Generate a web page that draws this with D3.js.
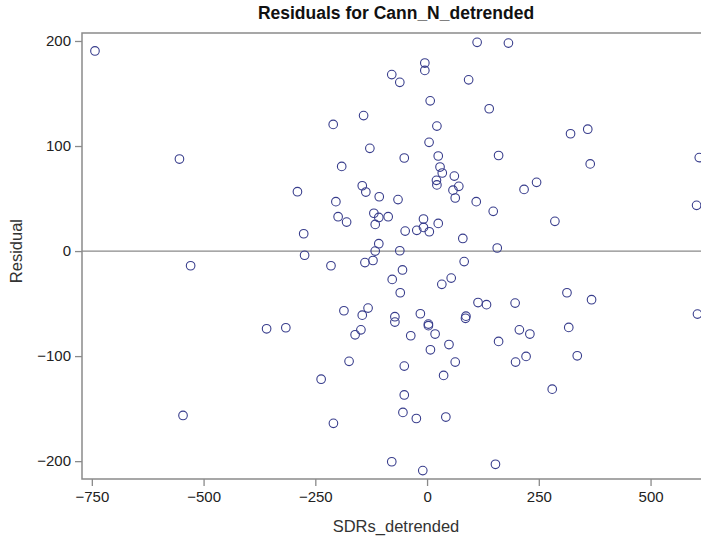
<!DOCTYPE html>
<html>
<head>
<meta charset="utf-8">
<script src="https://cdn.jsdelivr.net/npm/d3@7"></script>
<style>
  body { margin: 0; background: #fff; }
  text { font-family: "Liberation Sans", Arial, sans-serif; }
</style>
</head>
<body>
<div id="vis"></div>
<script>
// residuals
const sdrs = [
  -743, -554, -290, -276, -274, -529, -359, -316, -546, 112,
  182, -5, -5, -79, -61, 93, 7, 139, -142, -210,
  22, 4.5, -128, 160, 25, -51, -191, 29, 34, 61,
  21, 22, 71, 58, 63, 245, 217, -145, -137, -107,
  -65, 110, -204, 148, -119, -108, -87, -199, -180, -116,
  25, -8, -8, -23, 5, -49, 80, -108, -116, -61,
  157, 321, 359.5, 365, 286, 609, 603, -215, -139, -121,
  83, -55, -78, 54, 33, -60, 114, 133, 197, -186,
  -132, -145, -72, -72, -15, 3, 3, 87, 86, 18,
  -36.5, -148, -161, 206.5, 230, 160, 49, 7.5, 63, -174.5,
  -51, 198, 221.5, 37, -237, -51, -54, -24, 42, -209.5,
  -79, -9.6, 153, 313, 368, 317, 336, 280, 605
];
const residual = [
  190.5, 87.6, 56.5, 16.5, -4, -14, -74, -73, -156.5, 198.7,
  198, 179, 172, 168, 160.6, 163, 143, 135.5, 129, 120.6,
  119, 103.5, 97.8, 91, 90.5, 88.6, 80.6, 80, 74.3, 71.4,
  67.3, 63, 61.6, 58, 50.5, 65.4, 58.7, 62.2, 56.2, 51.7,
  49, 47, 47, 37.8, 36, 32, 32.7, 32.7, 27.6, 25.4,
  26.3, 30.5, 22.5, 19.7, 18.4, 19, 12, 7, 0, 0.3,
  2.9, 111.7, 116, 83, 28.3, 89, 43.5, -14, -11, -9,
  -10, -18, -27, -25.7, -31.7, -39.7, -49, -51, -49.5, -56.8,
  -54.3, -61, -62.5, -67.6, -59.7, -69.5, -71, -62, -64, -79,
  -80.6, -75, -79.7, -75, -79, -86, -89, -94, -105.7, -105,
  -109.5, -105.7, -100.3, -118.4, -122, -137, -153.6, -159.4, -158, -164,
  -200.6, -209, -203, -39.7, -46.3, -72.7, -99.7, -131.5, -60
];
const xTicks = [-750, -500, -250, 0, 250, 500];
const yTicks = [-200, -100, 0, 100, 200];

const chartTitle = 'Residuals for Cann_N_detrended';
const xTitle = 'SDRs_detrended';
const yTitle = 'Residual';

const config = { width: 701, height: 541, left: 82, right: 710, top: 33, bottom: 479 };

const svg = d3.select('#vis')
  .append('svg')
  .attr('width', config.width)
  .attr('height', config.height);

const x = d3.scaleLinear().domain([-772, 633]).range([config.left, config.right]);
const y = d3.scaleLinear().domain([-217, 207.6]).range([config.bottom, config.top]);

const gray = '#8a8a8a';
const minus = d => String(d).replace('-', '\u2212');

// frame
svg.append('rect')
  .attr('x', config.left).attr('y', config.top)
  .attr('width', config.right - config.left).attr('height', config.bottom - config.top)
  .attr('fill', 'none')
  .attr('stroke', gray)
  .attr('stroke-width', 1.5);

// zero reference line
svg.append('line')
  .attr('x1', config.left).attr('x2', config.right)
  .attr('y1', y(0)).attr('y2', y(0))
  .attr('stroke', gray)
  .attr('stroke-width', 1.2);

// axes
const xAxis = svg.append('g')
  .attr('transform', `translate(0,${config.bottom})`)
  .call(d3.axisBottom(x).tickValues(xTicks).tickSize(7).tickPadding(5).tickFormat(minus));
const yAxis = svg.append('g')
  .attr('transform', `translate(${config.left},0)`)
  .call(d3.axisLeft(y).tickValues(yTicks).tickSize(7).tickPadding(4).tickFormat(minus));

[xAxis, yAxis].forEach(g => {
  g.select('.domain').remove();
  g.selectAll('.tick line').attr('stroke', gray).attr('stroke-width', 1.3);
  g.selectAll('.tick text')
    .attr('fill', '#222')
    .style('font-size', '15px');
});

// titles
svg.append('text')
  .attr('x', (config.left + config.right) / 2).attr('y', 19)
  .attr('text-anchor', 'middle')
  .style('font-size', '17.5px')
  .style('font-weight', 'bold')
  .attr('fill', '#111')
  .text(chartTitle);

svg.append('text')
  .attr('x', (config.left + config.right) / 2).attr('y', 532)
  .attr('text-anchor', 'middle')
  .style('font-size', '16.5px')
  .attr('fill', '#333')
  .text(xTitle);

svg.append('text')
  .attr('transform', `translate(22,${y(0)}) rotate(-90)`)
  .attr('text-anchor', 'middle')
  .style('font-size', '16.5px')
  .attr('fill', '#333')
  .text(yTitle);

// points
const pts = sdrs.map((v, i) => ({ x: v, y: residual[i] }));
svg.append('g')
  .selectAll('circle')
  .data(pts)
  .join('circle')
  .attr('cx', d => x(d.x))
  .attr('cy', d => y(d.y))
  .attr('r', 4.3)
  .attr('fill', 'none')
  .attr('stroke', '#383d8c')
  .attr('stroke-width', 1.1);
</script>
</body>
</html>
